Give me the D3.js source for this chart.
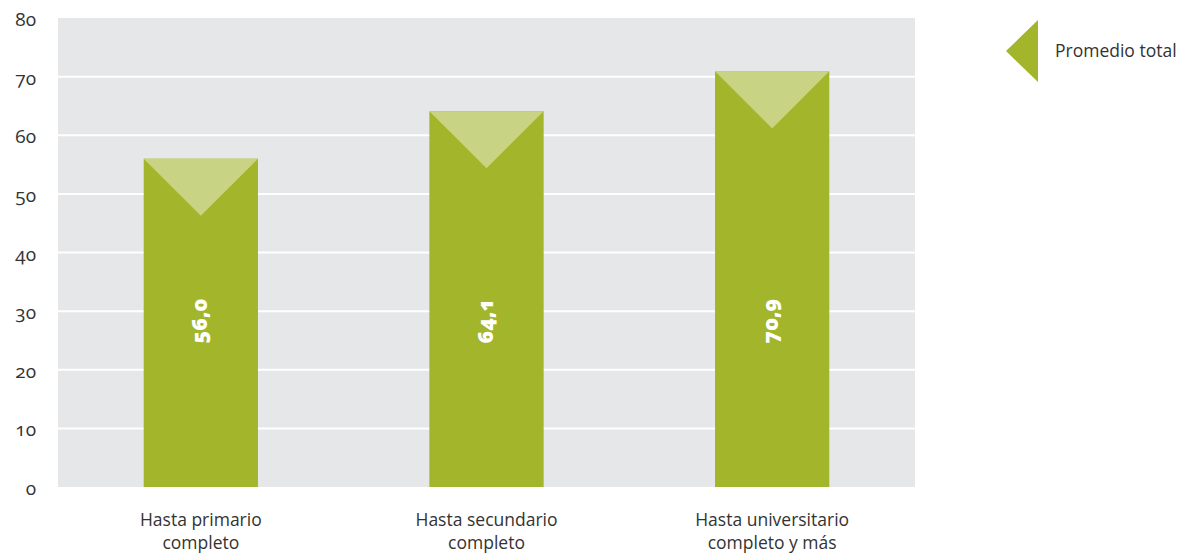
<!DOCTYPE html>
<html><head><meta charset="utf-8">
<script src="https://cdn.jsdelivr.net/npm/d3@7"></script>
<style>
body{margin:0;background:#fff;}
text{font-family:"Open Sans",sans-serif;}
</style></head>
<body><svg id="c" width="1183" height="554"></svg>
<script>
const categories = [["Hasta primario","completo"],["Hasta secundario","completo"],["Hasta universitario","completo y más"]];
const values = [56.0, 64.1, 70.9];
const valueLabels = ["56,0","64,1","70,9"];
const yTicks = [0,10,20,30,40,50,60,70,80];
const legendLabel = "Promedio total";

(function(){
const svg = d3.select("#c");
const pL=58, pR=915, pT=18, pB=487;
const x = d3.scaleBand().domain(d3.range(categories.length)).range([pL,pR]).paddingInner(0.6).paddingOuter(0.3);
const y = d3.scaleLinear().domain([0,80]).range([pB,pT]);

svg.append("rect").attr("x",pL).attr("y",pT).attr("width",pR-pL).attr("height",pB-pT).attr("fill","#e6e7e9");
svg.append("g").selectAll("line").data(yTicks.filter(d=>d>0&&d<80)).join("line")
  .attr("x1",pL).attr("x2",pR).attr("y1",d=>y(d)).attr("y2",d=>y(d))
  .attr("stroke","#fff").attr("stroke-width",2);

const yAxis = svg.append("g").attr("transform",`translate(36,0)`)
  .call(d3.axisLeft(y).tickValues(yTicks).tickSize(0).tickPadding(0));
yAxis.select(".domain").remove();
yAxis.selectAll("text").attr("font-size",19).attr("fill","#333").attr("dy","0.4em")
  .style("font-family","'Open Sans',sans-serif").style("font-variant-numeric","oldstyle-nums");

const bw = x.bandwidth();
const g = svg.append("g");
values.forEach((v,i)=>{
  const x0=x(i), yt=y(v);
  g.append("rect").attr("x",x0).attr("y",yt).attr("width",bw).attr("height",pB-yt).attr("fill","#a3b52a");
  g.append("path").attr("d",`M${x0},${yt}L${x0+bw},${yt}L${x0+bw/2},${yt+bw/2}Z`).attr("fill","#c8d383");
  g.append("text").attr("transform",`translate(${x0+bw/2},${y(28.3)}) rotate(-90)`)
    .attr("text-anchor","middle").attr("dy","0.3em").attr("fill","#fff").attr("font-weight",800)
    .attr("font-size",21).style("font-variant-numeric","oldstyle-nums").text(valueLabels[i]);
});

const xl = svg.append("g");
categories.forEach((lines,i)=>{
  const t = xl.append("text").attr("x",x(i)+bw/2).attr("y",526).attr("text-anchor","middle")
    .attr("font-size",17.5).attr("fill","#333");
  lines.forEach((l,j)=>t.append("tspan").attr("x",x(i)+bw/2).attr("dy",j?"1.3em":0).text(l));
});

svg.append("path").attr("d","M1006,51L1038,20L1038,82Z").attr("fill","#a3b52a");
svg.append("text").attr("x",1055).attr("y",51).attr("dy","0.35em").attr("font-size",17.5).attr("fill","#333").text(legendLabel);
})();
</script></body></html>
